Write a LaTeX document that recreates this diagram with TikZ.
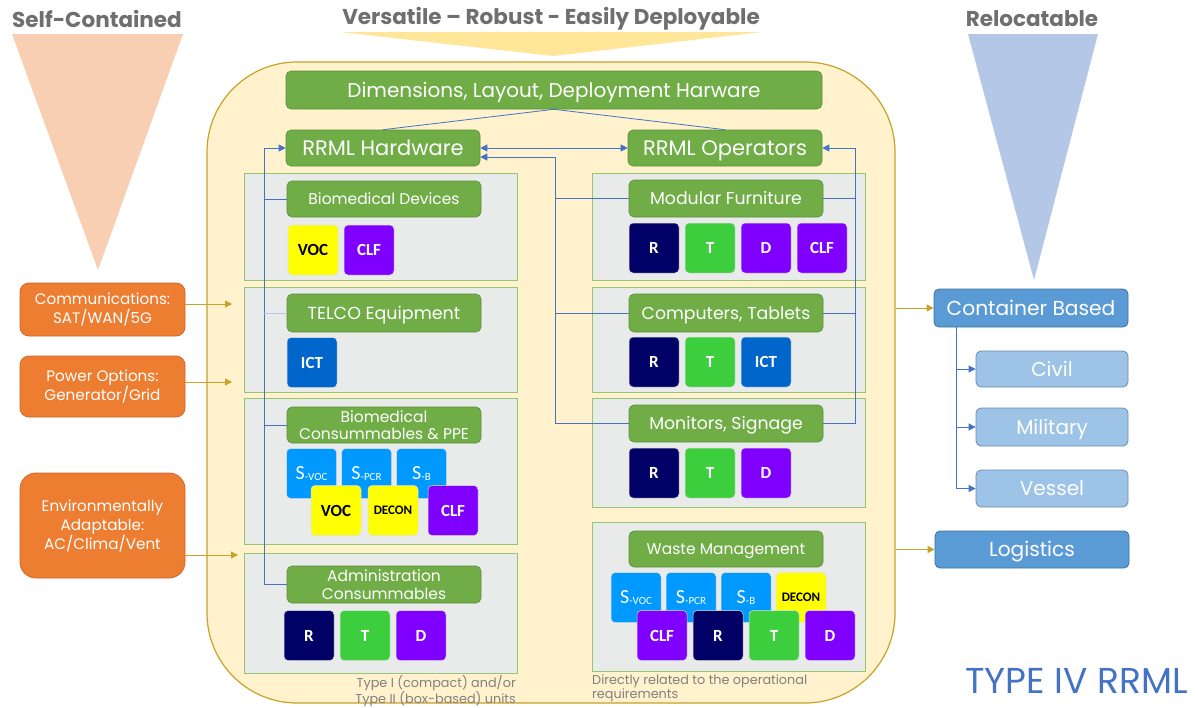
\documentclass[tikz,border=0pt]{standalone}
\usepackage{fontspec}
\setmainfont{Poppins}
\newfontfamily\calibri{Carlito}
\usetikzlibrary{arrows.meta,chains,positioning,scopes}

\definecolor{gold}{HTML}{C9A227}
\definecolor{cream}{HTML}{FFF2CC}
\definecolor{panelFill}{HTML}{E8EBE9}
\definecolor{panelEdge}{HTML}{93C572}
\definecolor{barFill}{HTML}{70AD47}
\definecolor{barEdge}{HTML}{5A8F38}
\definecolor{linkBlue}{HTML}{4472C4}
\definecolor{orangeFill}{HTML}{ED7D31}
\definecolor{orangeEdge}{HTML}{D0682A}
\definecolor{blueFill}{HTML}{5B9BD5}
\definecolor{blueEdge}{HTML}{41719C}
\definecolor{paleFill}{HTML}{9DC3E6}
\definecolor{headGray}{HTML}{6F6F6F}
\definecolor{noteGray}{HTML}{808080}
\definecolor{typeBlue}{HTML}{4472C4}
\definecolor{peach}{HTML}{F8CFB3}
\definecolor{butter}{HTML}{FFE699}
\definecolor{sky}{HTML}{B4C7E7}
\definecolor{navyR}{HTML}{000066}
\definecolor{greenT}{HTML}{3CCE3C}
\definecolor{violetD}{HTML}{8000FF}
\definecolor{blueICT}{HTML}{0066CC}
\definecolor{blueS}{HTML}{0099FF}
\definecolor{yellowV}{HTML}{FFFF00}

\newcommand\fsz[2]{\fontsize{#1}{#2}\selectfont}
\newcommand\sub[1]{\raisebox{-1.5pt}{\fsz{11}{12}#1}}

\begin{document}
\begin{tikzpicture}
      [
        x=1pt, y=-1pt,
        node distance=6pt,
        Frame/.style={draw=gold, line width=1.2pt, fill=cream, rounded corners=90pt},
        Panel/.style={draw=panelEdge, line width=1pt, fill=panelFill, inner sep=0pt, outer sep=0pt, minimum width=273pt},
        GreenBar/.style={draw=barEdge, line width=0.6pt, fill=barFill, rounded corners=5pt, text=white, inner sep=0pt, align=center, minimum width=194pt, minimum height=37pt},
        OneLine/.style={text height=#1, text depth=0pt},
        OrangeBox/.style={draw=orangeEdge, line width=0.8pt, fill=orangeFill, rounded corners=9pt, text=white, align=center, inner sep=0pt, minimum width=165pt, font=\fsz{15.2}{19}},
        BlueBox/.style={draw=blueEdge, line width=0.8pt, fill=blueFill, rounded corners=5pt, text=white, inner sep=0pt, minimum width=194pt, minimum height=38pt, font=\fsz{20.2}{23}, OneLine=14.5pt},
        PaleBox/.style={draw=blueEdge!80, line width=0.8pt, fill=paleFill, rounded corners=5pt, text=white, inner sep=0pt, minimum width=152pt, minimum height=37pt, font=\fsz{20}{23}, OneLine=14.4pt},
        Heading/.style={text=headGray, font=\bfseries\fsz{21.5}{25}},
        Note/.style={text=noteGray, font=\fsz{12.8}{14}, inner sep=0pt},
        Tile/.style={on chain, minimum width=50pt, minimum height=50pt, inner sep=0pt, outer sep=0pt, rounded corners=4pt, draw=black!12, line width=0.5pt, text=white, font=\calibri\bfseries\fsz{17}{20}},
        RBlock/.style={Tile, fill=navyR},
        TBlock/.style={Tile, fill=greenT},
        DBlock/.style={Tile, fill=violetD},
        ClfBlock/.style={Tile, fill=violetD},
        IctBlock/.style={Tile, fill=blueICT},
        SBlock/.style={Tile, fill=blueS, font=\calibri\fsz{20}{20}},
        VocBlock/.style={Tile, fill=yellowV, text=black},
        DeconBlock/.style={Tile, fill=yellowV, text=black, font=\calibri\bfseries\fsz{13}{15}},
        Link/.style={draw=linkBlue, line width=0.8pt},
        Tip/.style={-{Triangle[length=7pt, width=7pt]}},
        Feed/.style={draw=gold, line width=0.8pt, -{Triangle[length=7pt, width=7pt]}},
      ]

      \useasboundingbox (0,0) rectangle (1198,707);
      \fill[white] (0,0) rectangle (1198,707);

      % headings and funnels
      \fill[peach] (12,34) -- (183,34) -- (98,270) -- cycle;
      \fill[butter] (340,32) -- (762,32) -- (553,56) -- cycle;
      \fill[sky] (968,34) -- (1098,34) -- (1034,280) -- cycle;
      \node[Heading] (hSelf) at (97,19) {Self-Contained};
      \node[Heading] (hVers) at (551,19) {Versatile -- Robust - Easily Deployable};
      \node[Heading] (hReloc) at (1032,19) {Relocatable};

      \node[Frame, minimum width=688pt, minimum height=641pt] (frame) at (551,382.5) {};

      % panels
      \node[Panel, minimum height=107pt] (pBio) at (380.5,226.5) {};
      \node[Panel, minimum height=105pt] (pTel) at (380.5,339.5) {};
      \node[Panel, minimum height=146pt] (pCons) at (380.5,471) {};
      \node[Panel, minimum height=120pt] (pAdm) at (380.5,613) {};
      \node[Panel, minimum height=107pt] (pFurn) at (728.5,226.5) {};
      \node[Panel, minimum height=105pt] (pComp) at (728.5,339.5) {};
      \node[Panel, minimum height=109pt] (pMon) at (728.5,452.5) {};
      \node[Panel, minimum height=149pt] (pWaste) at (728.5,596.5) {};

      % green bars
      \node[GreenBar, OneLine=14.4pt, minimum width=536pt, minimum height=38pt, font=\fsz{20}{24}] (dims) at (554,90) {Dimensions, Layout, Deployment Harware};
      \node[GreenBar, OneLine=15.1pt, minimum height=36pt, font=\fsz{21}{24}] (hw) at (383,148) {RRML Hardware};
      \node[GreenBar, OneLine=15.1pt, minimum height=36pt, font=\fsz{21}{24}] (ops) at (725,148) {RRML Operators};

      \node[GreenBar, OneLine=11.2pt, minimum height=36pt, font=\fsz{15.5}{18}] (bio) at (384,199) {Biomedical Devices};
      \node[GreenBar, OneLine=12.6pt, minimum height=38pt, font=\fsz{17.5}{20}] (tel) at (384,313) {TELCO Equipment};
      \node[GreenBar, minimum height=36pt, font=\fsz{15.5}{17.5}] (cons) at (384,425) {Biomedical\\Consummables \& PPE};
      \node[GreenBar, minimum height=37pt, font=\fsz{15.5}{17.5}] (adm) at (384,584.5) {Administration\\Consummables};
      \node[GreenBar, OneLine=12.5pt, minimum height=37pt, font=\fsz{17.3}{20}] (furn) at (726,198.5) {Modular Furniture};
      \node[GreenBar, OneLine=12.5pt, minimum height=38pt, font=\fsz{17.3}{20}] (comp) at (726,313) {Computers, Tablets};
      \node[GreenBar, OneLine=12.5pt, minimum height=37pt, font=\fsz{17.3}{20}] (mon) at (726,423.5) {Monitors, Signage};
      \node[GreenBar, OneLine=11.2pt, minimum height=36pt, font=\fsz{15.5}{18}] (waste) at (726,549) {Waste Management};

      % tiles
      { [start chain=going right]
      \node[VocBlock, at={(313,250)}] (bioVoc) {VOC};
      \node[ClfBlock] (bioClf) {CLF};
      }
      { [start chain=going right]
      \node[IctBlock, at={(312,362.5)}] (telIct) {ICT};
      }
      { [start chain=going right, node distance=5pt]
      \node[SBlock, at={(311.5,473.5)}] (consSv) {S\sub{-VOC}};
      \node[SBlock] (consSp) {S\sub{-PCR}};
      \node[SBlock] (consSb) {S\sub{-B}};
      }
      { [start chain=going right, node distance=7pt]
      \node[VocBlock, at={(336,510.5)}] (consVoc) {VOC};
      \node[DeconBlock] (consDecon) {DECON};
      \node[ClfBlock, xshift=3pt] (consClf) {CLF};
      }
      { [start chain=going right]
      \node[RBlock, at={(309,635.5)}] (admR) {R};
      \node[TBlock] (admT) {T};
      \node[DBlock] (admD) {D};
      }
      { [start chain=going right]
      \node[RBlock, at={(654,248)}] (furnR) {R};
      \node[TBlock] (furnT) {T};
      \node[DBlock] (furnD) {D};
      \node[ClfBlock] (furnClf) {CLF};
      }
      { [start chain=going right]
      \node[RBlock, at={(654,362)}] (compR) {R};
      \node[TBlock] (compT) {T};
      \node[IctBlock] (compIct) {ICT};
      }
      { [start chain=going right]
      \node[RBlock, at={(654,473)}] (monR) {R};
      \node[TBlock] (monT) {T};
      \node[DBlock] (monD) {D};
      }
      { [start chain=going right, node distance=5pt]
      \node[SBlock, at={(636,597.5)}] (wasteSv) {S\sub{-VOC}};
      \node[SBlock] (wasteSp) {S\sub{-PCR}};
      \node[SBlock] (wasteSb) {S\sub{-B}};
      \node[DeconBlock] (wasteDecon) {DECON};
      }
      { [start chain=going right, node distance=6pt]
      \node[ClfBlock, at={(662,635.5)}] (wasteClf) {CLF};
      \node[RBlock] (wasteR) {R};
      \node[TBlock] (wasteT) {T};
      \node[DBlock] (wasteD) {D};
      }

      % notes
      \node[Note, anchor=north east, align=right] (noteL) at (516,675) {Type I (compact) and/or\\Type II (box-based) units};
      \node[Note, anchor=north west, align=left] (noteR) at (592,675) {Directly related to the operational\\requirements};

      % links inside the frame
      \coordinate (trunkL) at (264,148);
      \coordinate (trunkM) at (555,157);
      \coordinate (trunkR) at (855,148);
      \draw[Link] (dims.south) -- (hw.north);
      \draw[Link] (dims.south) -- (ops.north);
      \draw[Link, {Triangle[length=7pt, width=7pt]}-{Triangle[length=7pt, width=7pt]}] (hw.east) -- (ops.west);
      \draw[Link, Tip] (adm.west) -| (trunkL) -- (hw.west);
      \draw[Link] (bio.west) -- (bio.west -| trunkL);
      \draw[Link, draw=linkBlue!40] (tel.west) -- (tel.west -| trunkL);
      \draw[Link] (cons.west) -- (cons.west -| trunkL);
      \draw[Link, Tip] (mon.west) -| (trunkM) -- (trunkM -| hw.east);
      \draw[Link] (furn.west) -- (furn.west -| trunkM);
      \draw[Link] (comp.west) -- (comp.west -| trunkM);
      \draw[Link, Tip] (mon.east) -| (trunkR) -- (ops.east);
      \draw[Link] (furn.east) -- (furn.east -| trunkR);
      \draw[Link] (comp.east) -- (comp.east -| trunkR);

      % left inputs
      \node[OrangeBox, minimum height=53pt] (comm) at (102.5,309.5) {Communications:\\SAT/WAN/5G};
      \node[OrangeBox, minimum height=61pt] (power) at (102.5,386.5) {Power Options:\\Generator/Grid};
      \node[OrangeBox, minimum height=105pt, rounded corners=16pt] (env) at (102.5,525.5) {Environmentally\\Adaptable:\\AC/Clima/Vent};
      \coordinate (inComm) at (232,304);
      \coordinate (inPower) at (232,382);
      \coordinate (inEnv) at (238,555);
      \draw[Feed] (comm.east |- inComm) -- (inComm);
      \draw[Feed] (power.east |- inPower) -- (inPower);
      \draw[Feed] (env.east |- inEnv) -- (inEnv);

      % right outputs
      \node[BlueBox] (cont) at (1031,308) {Container Based};
      \node[PaleBox, minimum height=36pt] (civil) at (1052,369) {Civil};
      \node[PaleBox, minimum height=38pt] (mil) at (1052,427) {Military};
      \node[PaleBox] (vessel) at (1052,488.5) {Vessel};
      \node[BlueBox, minimum height=37pt] (logi) at (1032,549.5) {Logistics};
      \draw[Feed] (frame.east |- cont.west) -- (cont.west);
      \draw[Feed] (frame.east |- logi.west) -- (logi.west);
      \coordinate (treeTop) at (956,327);
      \draw[Link, Tip] (treeTop) |- (civil.west);
      \draw[Link, Tip] (treeTop) |- (mil.west);
      \draw[Link, Tip] (treeTop) |- (vessel.west);

      \node[text=typeBlue, font=\fsz{36}{40}, inner sep=0pt, text depth=0pt, anchor=base east] (title) at (1188,693) {TYPE IV RRML};
    \end{tikzpicture}
\end{document}
